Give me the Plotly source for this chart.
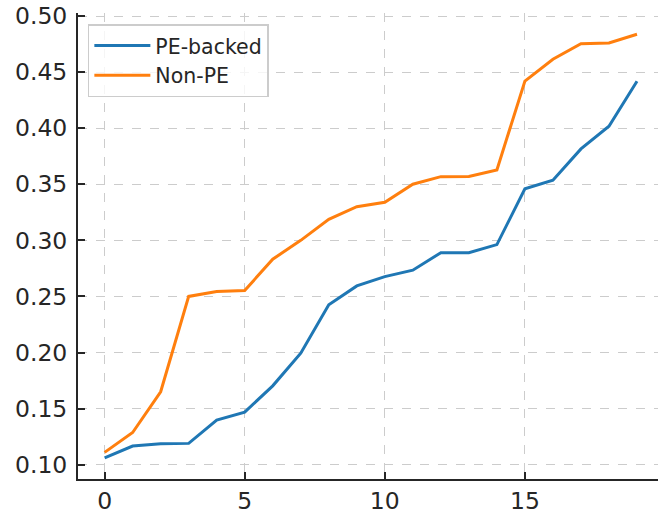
import plotly.graph_objects as go

x_vals = list(range(20))
pe_backed = [0.106, 0.1166, 0.1187, 0.119, 0.1397, 0.1469, 0.1703, 0.1994, 0.2425, 0.2594,
             0.2677, 0.2734, 0.289, 0.289, 0.2962, 0.3459, 0.3536, 0.3815, 0.4017, 0.4418]
non_pe = [0.111, 0.1287, 0.165, 0.250, 0.2544, 0.2553, 0.2832, 0.300, 0.3188, 0.330,
          0.334, 0.350, 0.3568, 0.357, 0.3628, 0.442, 0.4614, 0.4753, 0.476, 0.4837]
series_names = ["PE-backed", "Non-PE"]
x_ticks = [0, 5, 10, 15]
y_ticks = [0.10, 0.15, 0.20, 0.25, 0.30, 0.35, 0.40, 0.45, 0.50]
y_tick_labels = ["0.10", "0.15", "0.20", "0.25", "0.30", "0.35", "0.40", "0.45", "0.50"]

fig = go.Figure()
fig.add_trace(go.Scatter(x=x_vals, y=pe_backed, mode="lines", name=series_names[0],
                         line=dict(color="#1f77b4", width=3)))
fig.add_trace(go.Scatter(x=x_vals, y=non_pe, mode="lines", name=series_names[1],
                         line=dict(color="#ff7f0e", width=3)))

axis_color = "#262626"
tick_size = 23.5
fig.update_layout(
    width=658, height=516,
    margin=dict(l=78, r=0, t=13, b=37),
    paper_bgcolor="white", plot_bgcolor="white",
    font=dict(family="DejaVu Sans", color=axis_color, size=tick_size),
    showlegend=True,
    legend=dict(x=0.017, y=0.976, xanchor="left", yanchor="top",
                font=dict(size=20.5, color=axis_color),
                bgcolor="rgba(255,255,255,0.8)", bordercolor="#cccccc", borderwidth=1.5,
                itemwidth=56),
    xaxis=dict(range=[-0.95, 19.75], tickvals=x_ticks, ticks="inside", ticklen=7,
               tickwidth=1.5, tickcolor=axis_color, showline=True, linecolor=axis_color,
               linewidth=2, showgrid=True, gridcolor="#cccccc", griddash="dash",
               gridwidth=1, zeroline=False, ticklabelstandoff=0, automargin=False,
               tickfont=dict(size=tick_size, color=axis_color)),
    yaxis=dict(range=[0.08725, 0.50267], tickvals=y_ticks, ticktext=y_tick_labels,
               ticks="inside", ticklen=7, tickwidth=1.5, tickcolor=axis_color,
               showline=True, linecolor=axis_color, linewidth=2, showgrid=True,
               gridcolor="#cccccc", griddash="dash", gridwidth=1, zeroline=False,
               ticklabelstandoff=4, automargin=False,
               tickfont=dict(size=tick_size, color=axis_color)),
)

fig.write_html("out.html", config={"displayModeBar": False},
               post_script="document.body.style.margin='0';document.body.style.padding='0';")
